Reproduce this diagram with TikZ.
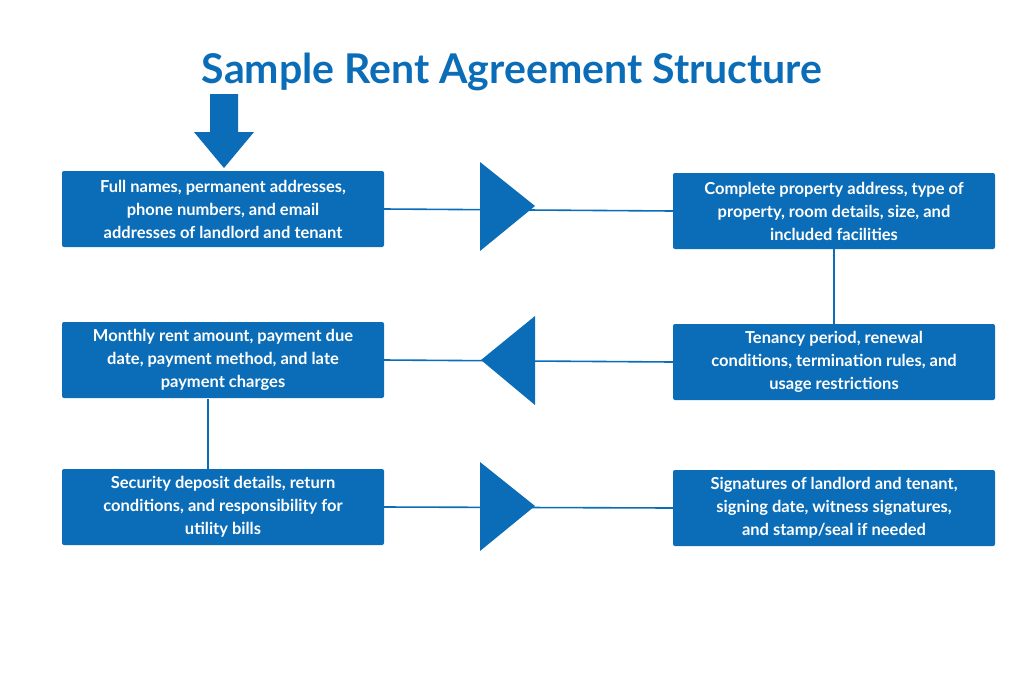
\documentclass[tikz,border=0pt]{standalone}
\usepackage{fontspec}
\setmainfont{Lato}
\definecolor{bl}{HTML}{0B6DB7}
\begin{document}
\begin{tikzpicture}[x=1pt,y=-1pt,
  box/.style={fill=bl,rounded corners=2pt,minimum width=322pt,minimum height=76pt,text=white,font=\bfseries\fontsize{16.5}{23}\selectfont,align=center,inner sep=0pt},
  ln/.style={draw=bl,line width=1.6pt},
  tri/.style={fill=bl}]
\useasboundingbox (0,0) rectangle (1024,683);
\node[text=bl,font=\bfseries\fontsize{41}{48}\selectfont] (title) at (512,72) {Sample Rent Agreement Structure};
\node[box] (b1) at (223,209) {Full names, permanent addresses,\\phone numbers, and email\\addresses of landlord and tenant};
\node[box] (b2) at (834,211) {Complete property address, type of\\property, room details, size, and\\included facilities};
\node[box] (b3) at (223,360) {Monthly rent amount, payment due\\date, payment method, and late\\payment charges};
\node[box] (b4) at (834,362) {Tenancy period, renewal\\conditions, termination rules, and\\usage restrictions};
\node[box] (b5) at (223,507) {Security deposit details, return\\conditions, and responsibility for\\utility bills};
\node[box] (b6) at (834,508) {Signatures of landlord and tenant,\\signing date, witness signatures,\\and stamp/seal if needed};
% down arrow
\fill[bl] (210,94) -- (238,94) -- (238,132) -- (254,132) -- (224,168) -- (194,132) -- (210,132) -- cycle;
% connectors
\draw[ln] (b1.east) -- (b2.west);
\draw[ln] (b2.south) -- (b4.north);
\draw[ln] (b4.west) -- (b3.east);
\draw[ln] (208,399) coordinate (c3) -- (208,469) coordinate (c5);
\draw[ln] (b5.east) -- (b6.west);
% triangles
\fill[bl] (480,162) -- (535,206) -- (480,251) -- cycle;
\fill[bl] (535,316) -- (481,360) -- (535,405) -- cycle;
\fill[bl] (480,462) -- (535,506) -- (480,551) -- cycle;
\end{tikzpicture}
\end{document}
